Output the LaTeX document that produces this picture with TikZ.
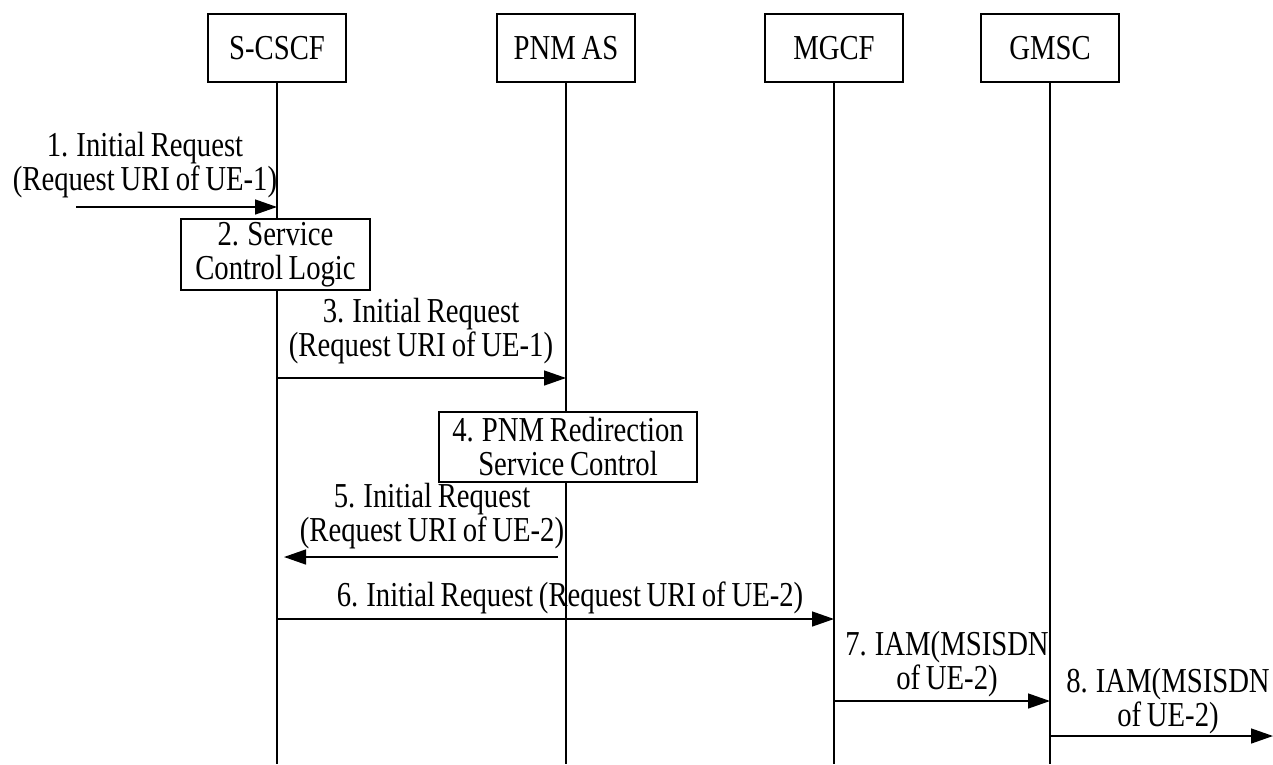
\documentclass[tikz,border=0pt]{standalone}
\usepackage{fontspec}
\setmainfont[FakeStretch=0.82,WordSpace=0.8]{Liberation Serif}
\usetikzlibrary{arrows.meta}
\begin{document}
\begin{tikzpicture}[x=1pt,y=-1pt,
  font=\fontsize{35}{34}\selectfont,
  actor/.style={draw, line width=1.4pt, fill=white, minimum width=138pt, minimum height=68pt, inner sep=0pt},
  procbox/.style={draw, fill=white, line width=1.4pt, align=center, inner sep=0pt},
  lbl/.style={anchor=south, inner sep=0pt, align=center},
  msg/.style={line width=1.4pt, -{Triangle[length=22pt,width=15pt]}},
  life/.style={line width=1.4pt}]
\useasboundingbox (0,0) rectangle (1273,764);

% actors
\node[actor] (scscf) at (277,48) {S-CSCF};
\node[actor] (pnm) at (566,48) {PNM AS};
\node[actor] (mgcf) at (834,48) {MGCF};
\node[actor] (gmsc) at (1050,48) {GMSC};

% lifeline ends
\coordinate (scscfEnd) at (277,764);
\coordinate (pnmEnd) at (566,764);
\coordinate (mgcfEnd) at (834,764);
\coordinate (gmscEnd) at (1050,764);
\draw[life] (scscf.south) -- (scscfEnd);
\draw[life] (pnm.south) -- (pnmEnd);
\draw[life] (mgcf.south) -- (mgcfEnd);
\draw[life] (gmsc.south) -- (gmscEnd);

% message 1
\coordinate (m1s) at (76,207);
\coordinate (m1e) at (scscf |- m1s);
\draw[msg] (m1s) -- (m1e);
\node[lbl] (l1) at (145,198) {1. Initial Request\\(Request URI of UE-1)};

% box 2
\node[procbox, minimum width=189pt, minimum height=71pt] (svc) at (275.5,254.5) {2. Service\\Control Logic};

% message 3
\coordinate (m3s) at (scscf |- 0,378);
\coordinate (m3e) at (pnm |- 0,378);
\draw[msg] (m3s) -- (m3e);
\node[lbl] (l3) at (421,364) {3. Initial Request\\(Request URI of UE-1)};

% box 4
\node[procbox, minimum width=258pt, minimum height=70pt] (pnmctl) at (568,447) {4. PNM Redirection\\Service Control};

% message 5
\coordinate (m5s) at (pnm |- 0,557);
\coordinate (m5e) at (scscf |- 0,557);
\draw[msg, shorten <=8pt, shorten >=7pt] (m5s) -- (m5e);
\node[lbl] (l5) at (432,549) {5. Initial Request\\(Request URI of UE-2)};

% message 6
\coordinate (m6s) at (scscf |- 0,619);
\coordinate (m6e) at (mgcf |- 0,619);
\draw[msg] (m6s) -- (m6e);
\node[lbl] (l6) at (570,614) {6. Initial Request (Request URI of UE-2)};

% message 7
\coordinate (m7s) at (mgcf |- 0,701);
\coordinate (m7e) at (gmsc |- 0,701);
\draw[msg] (m7s) -- (m7e);
\node[lbl] (l7) at (947,697) {7. IAM(MSISDN\\of UE-2)};

% message 8
\coordinate (m8s) at (gmsc |- 0,736);
\coordinate (m8e) at (1273,736);
\draw[msg] (m8s) -- (m8e);
\node[lbl] (l8) at (1168,734) {8. IAM(MSISDN\\of UE-2)};
\end{tikzpicture}
\end{document}
